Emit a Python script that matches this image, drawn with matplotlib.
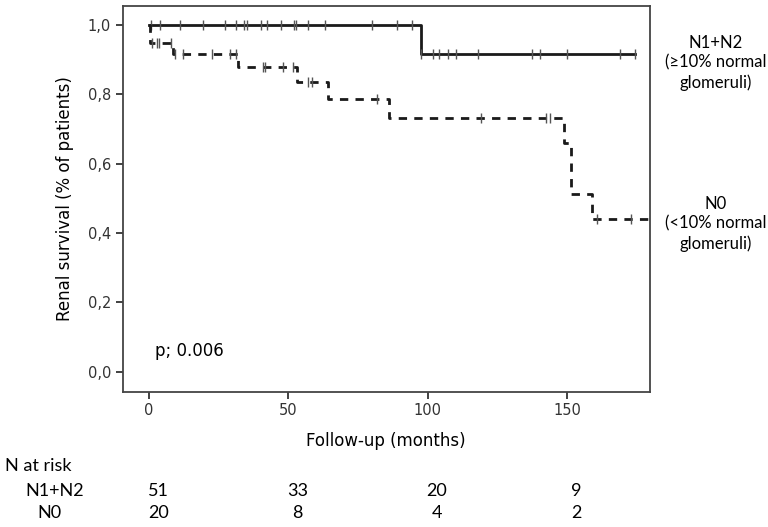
import numpy as np
import matplotlib
matplotlib.use("Agg")
import matplotlib.pyplot as plt

# Kaplan-Meier curves (months, survival fraction)
n12_events = [97.4]
n12_surv = [0.916]
n12_end = 174.2
n12_censored = [0.6, 3.9, 11.1, 19.2, 27.2, 31.2, 34.2, 35.0, 40.1, 42.2, 47.2,
                52.1, 52.7, 57.1, 63.1, 80.0, 88.8, 94.2,
                97.7, 101.9, 104.0, 107.2, 110.0, 118.0, 137.2, 140.1, 150.1,
                169.1, 174.2]

n0_events = [0.5, 8.5, 31.8, 52.9, 64.3, 86.1, 148.9, 151.3, 158.9]
n0_surv = [0.947, 0.916, 0.878, 0.835, 0.786, 0.733, 0.660, 0.513, 0.440]
n0_end = 179.4
n0_censored = [0.9, 2.8, 3.7, 7.8, 9.3, 12.3, 22.5, 29.0, 31.2, 40.8, 41.6,
               48.1, 51.7, 57.1, 58.3, 81.8, 119.2, 142.5, 144.0, 160.7, 173.0]

risk_times = [0, 50, 100, 150]
risk_n12 = [51, 33, 20, 9]
risk_n0 = [20, 8, 4, 2]

x_ticks = [0, 50, 100, 150]
y_ticks = [0.0, 0.2, 0.4, 0.6, 0.8, 1.0]


def step_xy(events, surv, end):
    xs = [0.0] + list(events) + [end]
    ys = [1.0] + list(surv) + [surv[-1]]
    return xs, ys


def surv_at(t, events, surv):
    i = np.searchsorted(events, t, side="right")
    return 1.0 if i == 0 else surv[i - 1]


side_font = ["Lato", "DejaVu Sans"]

fig = plt.figure(figsize=(7.68, 5.27), dpi=100)
ax = fig.add_axes([0.160, 0.257, 0.686, 0.732])

dark = "#1a1a1a"
x, y = step_xy(n12_events, n12_surv, n12_end)
ax.step(x, y, where="post", color=dark, lw=2.0)
ax.plot(n12_censored, [surv_at(t, n12_events, n12_surv) for t in n12_censored],
        ls="none", marker="|", ms=7, mew=1.0, color="#555555")

x, y = step_xy(n0_events, n0_surv, n0_end)
ax.step(x, y, where="post", color=dark, lw=2.0, ls=(0, (3, 2.6)))
ax.plot(n0_censored, [surv_at(t, n0_events, n0_surv) for t in n0_censored],
        ls="none", marker="|", ms=7, mew=1.0, color="#555555")

ax.set_xlim(-9.4, 179.6)
ax.set_ylim(-0.057, 1.055)
ax.set_xticks(x_ticks)
ax.set_yticks(y_ticks)
ax.set_yticklabels([f"{v:.1f}".replace(".", ",") for v in y_ticks])
ax.tick_params(direction="out", length=5, width=1.3, labelsize=10.5,
               colors="#333333", labelcolor="#333333")
for s in ax.spines.values():
    s.set_linewidth(1.3)
    s.set_color("#444444")

ax.set_ylabel("Renal survival (% of patients)", fontsize=12, labelpad=10)
ax.text(2.0, 0.06, "p; 0.006", fontsize=12, va="center", ha="left")

fig.text(386 / 768, 1 - 441 / 527, "Follow-up (months)", fontsize=12,
         ha="center", va="center")

# labels for the two curves on the right
fig.text(716 / 768, 1 - 63 / 527, "N1+N2\n(≥10% normal\nglomeruli)",
         fontsize=12, ha="center", va="center", linespacing=1.3,
         family=side_font)
fig.text(716 / 768, 1 - 224 / 527, "N0\n(<10% normal\nglomeruli)",
         fontsize=12, ha="center", va="center", linespacing=1.3,
         family=side_font)

# number at risk table
fig.text(5 / 768, 1 - 466 / 527, "N at risk", fontsize=13, ha="left",
         va="center", family=side_font)
fig.text(25 / 768, 1 - 491 / 527, "N1+N2", fontsize=13, ha="left",
         va="center", family=side_font)
fig.text(37 / 768, 1 - 513 / 527, "N0", fontsize=13, ha="left",
         va="center", family=side_font)
for t, a, b in zip(risk_times, risk_n12, risk_n0):
    xf = ax.transData.transform((t, 0))[0] / fig.bbox.width
    fig.text(xf + 0.012, 1 - 491 / 527, str(a), fontsize=13, ha="center",
             va="center", family=side_font)
    fig.text(xf + 0.012, 1 - 513 / 527, str(b), fontsize=13, ha="center",
             va="center", family=side_font)

fig.savefig("out.png", dpi=100)
